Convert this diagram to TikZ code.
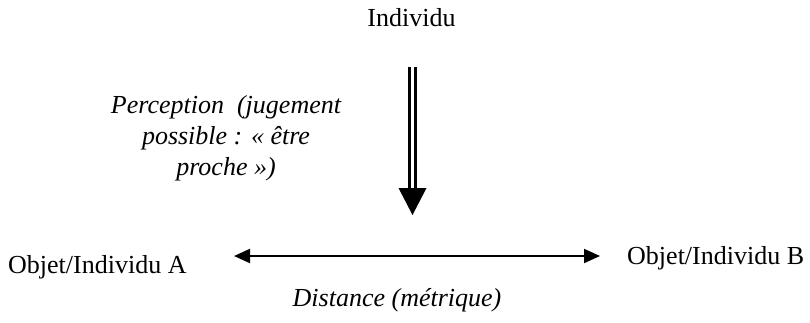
\documentclass[tikz,border=0pt]{standalone}
\usepackage{fontspec}
\setmainfont{Liberation Serif}
\usetikzlibrary{arrows.meta}
\tikzset{
  lbl/.style={inner sep=0pt, font=\fontsize{26}{29}\selectfont},
  ilbl/.style={lbl, font=\fontsize{26}{31}\selectfont\itshape},
  dblarrow/.style={draw=black, double=white, line width=2.4pt, double distance=3.6pt},
  bitip/.style={line width=2pt, {Triangle[length=16pt,width=14pt]}-{Triangle[length=16pt,width=14pt]}}
}
\begin{document}
\begin{tikzpicture}[x=1pt,y=-1pt]
\useasboundingbox (0,0) rectangle (810,322);
\node[lbl, anchor=base] (ind) at (411.5,26) {Individu};
\coordinate (dtop) at (412.5,67);
\coordinate (dbase) at (412.5,190);
\draw[dblarrow] (dtop) -- (dbase);
\fill (398.5,188) -- (426.5,188) -- (412.5,215) -- cycle;
\node[ilbl, align=center, anchor=base] (perc) at (226,175) {Perception~~(jugement\\possible : « être\\proche »)};
\node[lbl, anchor=base west] (a) at (8,273) {Objet/Individu A};
\node[lbl, anchor=base west] (b) at (627,264) {Objet/Individu B};
\coordinate (lt) at (234,256);
\coordinate (rt) at (600,256);
\draw[bitip] (lt) -- (rt);
\node[ilbl, anchor=base] (dist) at (397,306) {Distance (métrique)};
\end{tikzpicture}
\end{document}
